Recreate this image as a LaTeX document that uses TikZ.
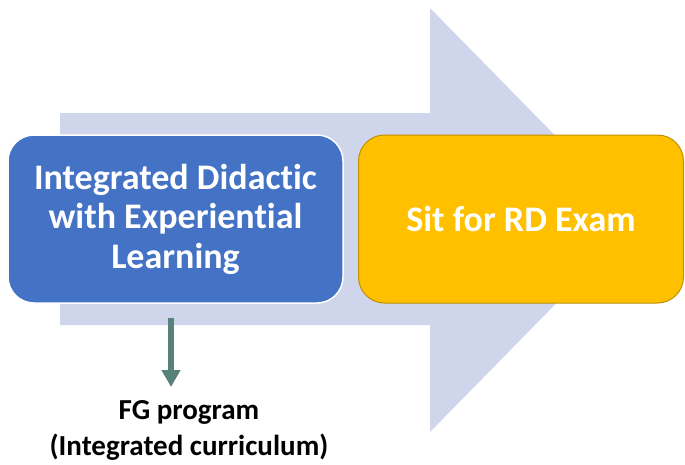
\documentclass[tikz,border=0pt]{standalone}
\usepackage{fontspec}
\setmainfont[RawFeature={-liga;-clig;-calt;-dlig;-rlig}]{Carlito}
\usetikzlibrary{arrows.meta}
\definecolor{lav}{RGB}{207,213,234}
\definecolor{bluebox}{RGB}{68,114,196}
\definecolor{yelbox}{RGB}{255,192,0}
\definecolor{yelline}{RGB}{191,144,0}
\definecolor{teal}{RGB}{86,130,121}
\tikzset{
  box/.style={rounded corners=26pt, minimum width=335pt, minimum height=168pt,
    text=white, font=\fontsize{36}{39.5}\selectfont\bfseries, align=center, inner sep=0pt},
  note/.style={font=\fontsize{29}{36}\selectfont\bfseries, align=center, text=black, inner sep=0pt},
  down/.style={draw=teal, line width=6pt, -{Triangle[width=18pt,length=17pt]}}
}
\begin{document}
\begin{tikzpicture}[x=1pt,y=-1pt]
\useasboundingbox (0,0) rectangle (685,464);
\fill[lav] (60,113) -- (430,113) -- (430,8) -- (638,220) -- (430,432) -- (430,325) -- (60,325) -- cycle;
\node[box, fill=bluebox, draw=white, line width=1.5pt] (did) at (175.5,219)
  {Integrated Didactic\\with Experiential\\Learning};
\node[box, fill=yelbox, draw=yelline, line width=1pt, minimum width=325pt] (rd) at (521,219)
  {Sit for RD Exam};
\node[note] (fg) at (189,430) {FG program\\(Integrated curriculum)};
\coordinate (a0) at (171,318);
\coordinate (a1) at (171,387);
\draw[down] (a0) -- (a1);
\end{tikzpicture}
\end{document}
